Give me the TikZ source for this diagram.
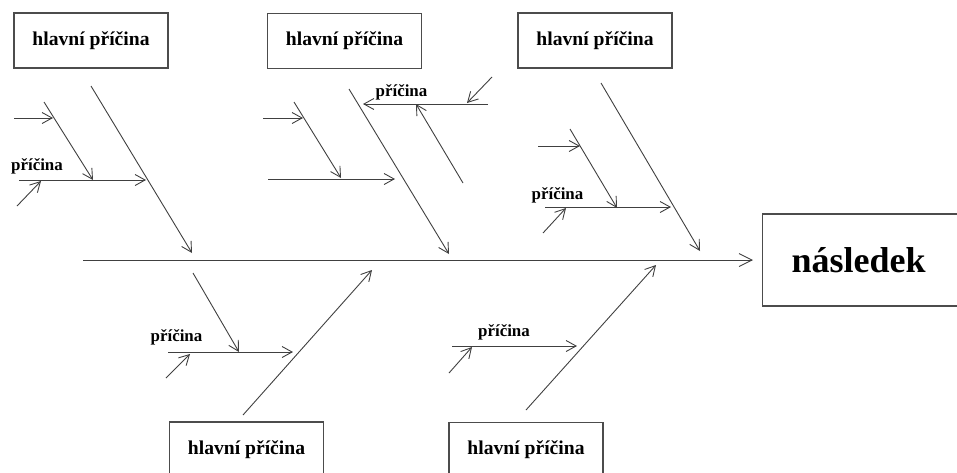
\documentclass[tikz,border=0pt]{standalone}
\usepackage{fontspec}
\setmainfont{Liberation Serif}
\usetikzlibrary{arrows.meta, positioning}
\tikzset{
	hlavni/.style ={rectangle, draw=black!70, line width=1.4pt, minimum width=154pt, minimum height=55pt, inner sep=0pt, font=\fontsize{19.6}{22}\selectfont\bfseries},
	efekt/.style  ={rectangle, draw=black!70, line width=1.4pt, anchor=west, minimum height=92pt, text width=240pt, inner xsep=29pt, align=left, font=\fontsize{36}{40}\selectfont\bfseries},
	pricina/.style={inner sep=0pt, font=\fontsize{16.9}{19}\selectfont\bfseries},
	% arrows
	pater/.style  ={-{Straight Barb[length=13pt, width=13pt]}, line width=0.9pt, black!75},
	sip/.style    ={-{Straight Barb[length=10pt, width=11pt]}, line width=0.9pt, black!75},
}
\begin{document}
\begin{tikzpicture}[x=1pt, y=-1pt]
	\useasboundingbox (0,0) rectangle (957,472);
	% boxes
	\node[hlavni] (h1) at (91,40.5) {hlavní příčina};
	\node[hlavni] (h2) at (344.5,41) {hlavní příčina};
	\node[hlavni] (h3) at (595,40.5) {hlavní příčina};
	\node[hlavni] (h4) at (246.5,449.5) {hlavní příčina};
	\node[hlavni] (h5) at (526,450) {hlavní příčina};
	\node[efekt] (nasledek) at (762,260) {následek};
	% spine
	\coordinate (spine) at (83,260);
	\draw[pater, shorten >=9pt] (spine) -- (nasledek.west);
	% main bones
	\coordinate (k1s) at (91,86);   \coordinate (k1e) at (192,253);
	\coordinate (k2s) at (349,89);  \coordinate (k2e) at (449,254);
	\coordinate (k3s) at (601,83);  \coordinate (k3e) at (700,251);
	\coordinate (k4s) at (243,415); \coordinate (k4e) at (372,270);
	\coordinate (k5s) at (526,410); \coordinate (k5e) at (656,265);
	\draw[sip] (k1s) -- (k1e);
	\draw[sip] (k2s) -- (k2e);
	\draw[sip] (k3s) -- (k3e);
	\draw[sip] (k4s) -- (k4e);
	\draw[sip] (k5s) -- (k5e);
	% group 1
	\coordinate (a1s) at (14,118);  \coordinate (a1e) at (53,118);
	\coordinate (b1s) at (44,102);  \coordinate (b1e) at (93,180);
	\coordinate (c1s) at (19,180);  \coordinate (c1e) at (146,180);
	\coordinate (d1s) at (17,206);  \coordinate (d1e) at (41,181);
	\draw[sip] (a1s) -- (a1e);
	\draw[sip] (b1s) -- (b1e);
	\draw[sip] (c1s) -- (c1e);
	\draw[sip] (d1s) -- (d1e);
	\node[pricina] (p1) at (37,166) {příčina};
	% group 2
	\coordinate (a2s) at (263,118); \coordinate (a2e) at (303,118);
	\coordinate (b2s) at (294,102); \coordinate (b2e) at (341,178);
	\coordinate (c2s) at (268,179); \coordinate (c2e) at (395,179);
	\coordinate (d2s) at (488,104); \coordinate (d2e) at (363,104);
	\coordinate (e2s) at (463,183); \coordinate (e2e) at (416,104);
	\coordinate (f2s) at (492,77);  \coordinate (f2e) at (467,103);
	\draw[sip] (a2s) -- (a2e);
	\draw[sip] (b2s) -- (b2e);
	\draw[sip] (c2s) -- (c2e);
	\draw[sip] (d2s) -- (d2e);
	\draw[sip] (e2s) -- (e2e);
	\draw[sip] (f2s) -- (f2e);
	\node[pricina] (p2) at (401.5,92) {příčina};
	% group 3
	\coordinate (a3s) at (538,146); \coordinate (a3e) at (580,146);
	\coordinate (b3s) at (570,129); \coordinate (b3e) at (617,208);
	\coordinate (c3s) at (545,207); \coordinate (c3e) at (671,207);
	\coordinate (d3s) at (543,233); \coordinate (d3e) at (566,208);
	\draw[sip] (a3s) -- (a3e);
	\draw[sip] (b3s) -- (b3e);
	\draw[sip] (c3s) -- (c3e);
	\draw[sip] (d3s) -- (d3e);
	\node[pricina] (p3) at (557.5,195) {příčina};
	% group 4
	\coordinate (b4s) at (193,273); \coordinate (b4e) at (239,352);
	\coordinate (c4s) at (168,352); \coordinate (c4e) at (293,352);
	\coordinate (d4s) at (166,378); \coordinate (d4e) at (190,354);
	\draw[sip] (b4s) -- (b4e);
	\draw[sip] (c4s) -- (c4e);
	\draw[sip] (d4s) -- (d4e);
	\node[pricina] (p4) at (176.5,337) {příčina};
	% group 5
	\coordinate (c5s) at (452,346); \coordinate (c5e) at (577,346);
	\coordinate (d5s) at (449,373); \coordinate (d5e) at (472,347);
	\draw[sip] (c5s) -- (c5e);
	\draw[sip] (d5s) -- (d5e);
	\node[pricina] (p5) at (504,332) {příčina};
\end{tikzpicture}
\end{document}
